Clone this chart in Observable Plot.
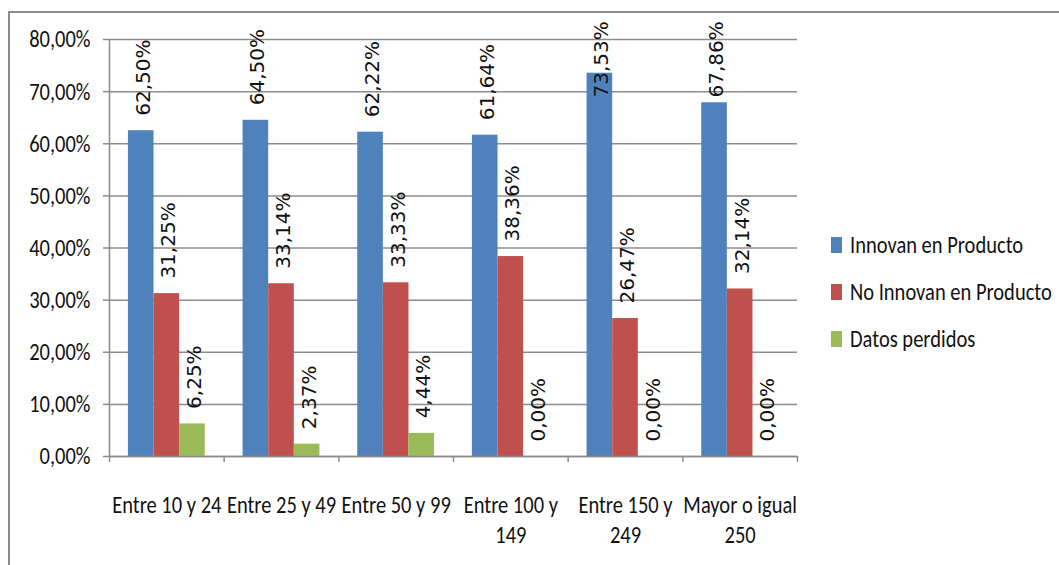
<!DOCTYPE html>
<html>
<head>
<meta charset="utf-8">
<script src="https://cdn.jsdelivr.net/npm/d3@7"></script>
<script src="https://cdn.jsdelivr.net/npm/@observablehq/plot@0.6"></script>
<style>
  body { margin: 0; background: #fff; }
  #chart { position: relative; width: 1059px; height: 565px; overflow: hidden;
           font-family: Carlito, "Liberation Sans", sans-serif; }
  #chart svg { position: absolute; left: 0; top: 0; }
  #border { position: absolute; left: 8px; top: 11px; width: 1100px; height: 600px;
            border-top: 2px solid #8c8c8c; border-left: 2px solid #8c8c8c; pointer-events: none; }
  #legend { position: absolute; left: 831px; top: 221px; }
  .row { display: flex; align-items: center; height: 47px; font-size: 20.5px; color: #111; white-space: nowrap; }
  .row span { display: inline-block; transform: scaleY(1.2); }
  .sw { width: 11px; height: 16px; margin-right: 8px; flex: none; }
</style>
</head>
<body>
<div id="chart"><div id="border"></div><div id="legend"></div></div>
<script>
// Company size bands and the share of firms in each group
const categories = ["Entre 10 y 24", "Entre 25 y 49", "Entre 50 y 99", "Entre 100 y\n149", "Entre 150 y\n249", "Mayor o igual\n250"];
const seriesNames = ["Innovan en Producto", "No Innovan en Producto", "Datos perdidos"];
const seriesColors = ["#4F81BD", "#C0504D", "#9BBB59"];
const innovan   = [62.50, 64.50, 62.22, 61.64, 73.53, 67.86];
const noInnovan = [31.25, 33.14, 33.33, 38.36, 26.47, 32.14];
const perdidos  = [6.25, 2.37, 4.44, 0.00, 0.00, 0.00];
const yTicks = [0, 10, 20, 30, 40, 50, 60, 70, 80];

// Each category owns one unit on x; the three bars sit together in its middle
const groupPad = 0.165;
const barW = (1 - 2 * groupPad) / 3;
// Labels that would run past the top edge are held just under it
const LABEL_CEIL = 66;

const fmt = v => v.toFixed(2).replace(".", ",") + "%";
const seriesValues = [innovan, noInnovan, perdidos];
const rows = categories.flatMap((c, i) =>
  seriesValues.map((vals, s) => ({ci: i, s, series: seriesNames[s], value: vals[i]}))
);

const gray = "#8c8c8c";
const font = "Carlito, 'Liberation Sans', sans-serif";

const chart = Plot.plot({
  width: 1059,
  height: 565,
  marginLeft: 109,
  marginRight: 262,
  marginTop: 39,
  marginBottom: 109,
  style: {fontFamily: font, background: "none", color: "#111"},
  x: {domain: [0, categories.length], label: null},
  y: {domain: [0, 80], label: null},
  color: {domain: seriesNames, range: seriesColors},
  marks: [
    Plot.gridY(yTicks, {stroke: gray, strokeOpacity: 1, strokeWidth: 1.5}),
    Plot.axisY({ticks: yTicks, tickFormat: fmt, tickSize: 6, tickPadding: 13, fontSize: 20.5, stroke: gray, strokeWidth: 1.5, label: null}),
    Plot.axisX({ticks: d3.range(categories.length + 1), tickFormat: () => "", tickSize: 6, stroke: gray, strokeWidth: 1.5, label: null}),
    Plot.axisX({
      ticks: categories.map((c, i) => i + 0.5),
      tickFormat: v => categories[Math.floor(v)],
      tickSize: 0, tickPadding: 34, fontSize: 20.5, lineHeight: 1.26, label: null
    }),
    Plot.rect(rows, {
      x1: d => d.ci + groupPad + d.s * barW,
      x2: d => d.ci + groupPad + (d.s + 1) * barW,
      y1: 0,
      y2: "value",
      fill: "series"
    }),
    Plot.ruleX([0], {stroke: gray, strokeWidth: 1.5}),
    Plot.ruleY([0], {stroke: gray, strokeWidth: 1.5}),
    Plot.text(rows, {
      x: d => d.ci + groupPad + (d.s + 0.5) * barW,
      y: d => Math.min(d.value, LABEL_CEIL),
      text: d => fmt(d.value),
      rotate: -90,
      textAnchor: "start",
      dy: -15,
      dx: 2,
      fontSize: 20,
      fontFamily: "DejaVu Sans",
      fill: "#111"
    })
  ]
});

// Axis labels are set in a tall, narrow face: stretch them vertically about their anchor
chart.querySelectorAll('g[aria-label="y-axis tick label"] text, g[aria-label="x-axis tick label"] text')
  .forEach(t => {
    const tr = t.getAttribute("transform") || "";
    t.setAttribute("transform", tr + " scale(1,1.2)");
  });
document.getElementById("chart").prepend(chart);

// Legend: one swatch and name per series
const legend = document.getElementById("legend");
seriesNames.forEach((name, s) => {
  const row = document.createElement("div");
  row.className = "row";
  const sw = document.createElement("div");
  sw.className = "sw";
  sw.style.background = seriesColors[s];
  const label = document.createElement("span");
  label.textContent = name;
  row.append(sw, label);
  legend.append(row);
});
</script>
</body>
</html>
